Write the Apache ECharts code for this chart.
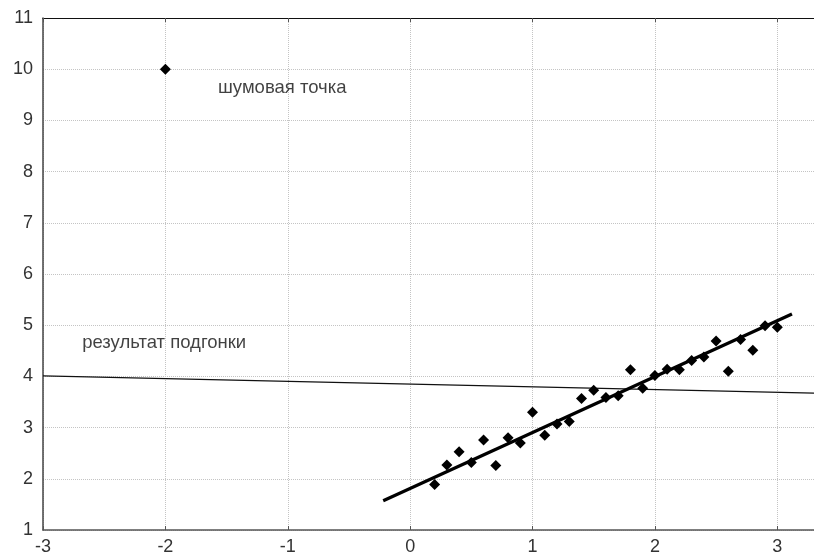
<!DOCTYPE html>
<html>
<head>
<meta charset="utf-8">
<script src="https://cdn.jsdelivr.net/npm/echarts@6/dist/echarts.min.js"></script>
<style>
html,body{margin:0;padding:0;background:#fff;}
#chart{width:814px;height:559px;}
</style>
</head>
<body>
<div id="chart"></div>
<script>
// measured points (x, y)
var xs = [0.2,0.3,0.4,0.5,0.6,0.7,0.8,0.9,1.0,1.1,1.2,1.3,1.4,1.5,1.6,1.7,1.8,1.9,2.0,2.1,2.2,2.3,2.4,2.5,2.6,2.7,2.8,2.9,3.0];
var ys = [1.89,2.27,2.53,2.32,2.76,2.26,2.80,2.70,3.30,2.85,3.07,3.12,3.57,3.73,3.59,3.62,4.13,3.77,4.02,4.14,4.13,4.31,4.38,4.69,4.10,4.72,4.51,4.99,4.96];
var noisePoint = [-2, 10];
// fitted lines: true-fit (thick) and result with noise (thin)
var fitLine = [[-0.22, 1.57], [3.12, 5.22]];
var resultLine = [[-3, 4.01], [3.3, 3.675]];
var notes = [
  {value: [-1.57, 9.63], text: 'шумовая точка'},
  {value: [-2.68, 4.65], text: 'результат подгонки'}
];
var xTicks = [-3, 3.3];
var yTicks = [1, 11];

var pts = [];
for (var i = 0; i < xs.length; i++) {
  pts.push([xs[i], ys[i]]);
}
pts.push(noisePoint);

var chart = echarts.init(document.getElementById('chart'));
var tickFont = {color: '#333', fontSize: 18, fontFamily: 'Liberation Sans, Arial, sans-serif'};
option = {
  animation: false,
  grid: {left: 43, top: 18, bottom: 29, right: -5},
  xAxis: [
    {
      type: 'value', min: xTicks[0], max: xTicks[1], interval: 1,
      axisLine: {onZero: false, lineStyle: {color: '#555', width: 1.5}},
      axisTick: {inside: true, length: 4, lineStyle: {color: '#555'}},
      axisLabel: Object.assign({margin: 8, showMaxLabel: false}, tickFont),
      splitLine: {lineStyle: {color: '#c4c4c4', type: 'dotted', width: 1}}
    },
    {
      type: 'value', min: xTicks[0], max: xTicks[1], interval: 1, position: 'top',
      axisLine: {onZero: false, lineStyle: {color: '#111', width: 1.2}},
      axisTick: {inside: true, length: 4, lineStyle: {color: '#555'}},
      axisLabel: {show: false},
      splitLine: {show: false}
    }
  ],
  yAxis: {
    type: 'value', min: yTicks[0], max: yTicks[1], interval: 1,
    axisLine: {show: true, onZero: false, lineStyle: {color: '#444', width: 1.5}},
    axisTick: {show: false},
    axisLabel: Object.assign({margin: 10}, tickFont),
    splitLine: {lineStyle: {color: '#c4c4c4', type: 'dotted', width: 1}}
  },
  series: [
    {
      type: 'line', data: resultLine, symbol: 'none',
      lineStyle: {color: '#111', width: 1.2}, z: 2
    },
    {
      type: 'line', data: fitLine, symbol: 'none',
      lineStyle: {color: '#000', width: 3.2}, z: 3
    },
    {
      type: 'scatter', data: pts, symbol: 'diamond', symbolSize: 11,
      itemStyle: {color: '#000', opacity: 1}, z: 4
    },
    {
      type: 'scatter', symbolSize: 0,
      data: notes.map(function (n) { return {value: n.value, name: n.text}; }),
      label: {
        show: true, position: 'right', distance: 0,
        formatter: function (p) { return p.name; },
        color: '#111', fontSize: 18.5, fontFamily: 'Liberation Sans, Arial, sans-serif'
      },
      z: 5
    }
  ]
};
chart.setOption(option);
</script>
</body>
</html>
